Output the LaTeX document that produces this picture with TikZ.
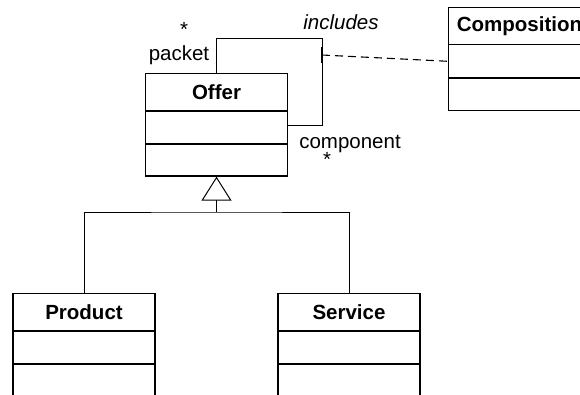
\documentclass[tikz,border=0pt]{standalone}
\usepackage{fontspec}
\setmainfont{Liberation Sans}
\usetikzlibrary{arrows.meta}
\tikzset{
  part/.style={draw, line width=1.3pt, minimum width=142pt, inner sep=0pt, anchor=center},
  head/.style={part, minimum height=37pt, font=\fontsize{20.5}{24}\selectfont\bfseries},
  comp1/.style={part, minimum height=33pt},
  comp2/.style={part, minimum height=32pt},
  lbl/.style={inner sep=0pt, anchor=base, font=\fontsize{20.5}{24}\selectfont},
  conn/.style={line width=0.9pt},
  dashconn/.style={line width=1.1pt, dash pattern=on 8pt off 5pt},
}
\begin{document}
\begin{tikzpicture}[x=1pt,y=-1pt]
\useasboundingbox (0,0) rectangle (580,394);
% Offer
\node[head]  (offer)  at (216.5,92) {Offer};
\node[comp1] (offerA) at (216.5,127.5) {};
\node[comp2] (offerB) at (216.5,160) {};
% Composition
\node[head]  (compo)  at (519.5,25.8) {Composition};
\node[comp1] (compoA) at (519.5,61.3) {};
\node[comp2] (compoB) at (519.5,94.3) {};
% Product
\node[head]  (product)  at (84,312) {Product};
\node[comp1] (productA) at (84,347.5) {};
\node[comp2] (productB) at (84,380) {};
% Service
\node[head]  (service)  at (349,312) {Service};
\node[comp1] (serviceA) at (349,347.5) {};
\node[comp2] (serviceB) at (349,380) {};
% self association
\coordinate (lt) at (216.5,38.3);
\coordinate (lr) at (322,38.3);
\coordinate (lb) at (322,125);
\draw[conn] (offer.north) -- (lt) -- (lr) -- (lb) -- (lb -| offerA.east);
\coordinate (tickA) at (321.5,47);
\coordinate (tickB) at (321.5,63);
\draw[line width=1.5pt] (tickA) -- (tickB);
\coordinate (ac) at (322,55);
\draw[dashconn] (ac) -- (compoA.west);
% labels
\node[lbl] (star1) at (184,36) {*};
\node[lbl] (packet) at (179,60) {packet};
\node[lbl] (component) at (350,148) {component};
\node[lbl] (star2) at (327,166) {*};
\node[lbl, font=\fontsize{20.5}{24}\selectfont\itshape] (includes) at (341,29) {includes};
% generalization
\coordinate (bus) at (216.5,212);
\draw[conn] (product.north) |- (bus) -| (service.north);
\draw[conn, -{Triangle[open, length=24pt, width=30pt, line width=1pt]}] (bus) -- (offerB.south);
\end{tikzpicture}
\end{document}
